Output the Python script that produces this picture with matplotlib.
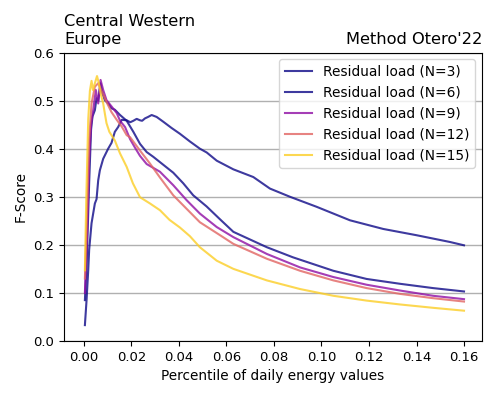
import matplotlib
matplotlib.use("Agg")
import matplotlib.pyplot as plt

# values (percentile fraction -> F-score)
x_n3 = [0.0004, 0.0011, 0.0018, 0.0022, 0.0032, 0.0046, 0.0053, 0.0060, 0.0067, 0.0081,
        0.0102, 0.0116, 0.0130, 0.0144, 0.0159, 0.0180, 0.0195, 0.0208, 0.0222, 0.0236,
        0.0245, 0.0257, 0.0270, 0.0285, 0.0306, 0.0334, 0.0369, 0.0404, 0.0446, 0.0488,
        0.0517, 0.0559, 0.0629, 0.0713, 0.0783, 0.0867, 0.0980, 0.1120, 0.1260, 0.1400,
        0.1540, 0.1600]
f_n3 = [0.033, 0.085, 0.147, 0.190, 0.245, 0.286, 0.295, 0.334, 0.355, 0.379,
        0.400, 0.412, 0.435, 0.445, 0.460, 0.459, 0.455, 0.458, 0.462, 0.459,
        0.458, 0.463, 0.466, 0.470, 0.466, 0.456, 0.443, 0.431, 0.415, 0.400,
        0.392, 0.375, 0.357, 0.341, 0.317, 0.300, 0.279, 0.251, 0.233, 0.220,
        0.206, 0.199]

x_n6 = [0.0004, 0.0012, 0.0022, 0.0030, 0.0036, 0.0046, 0.0053, 0.0060, 0.0070, 0.0078,
        0.0088, 0.0102, 0.0116, 0.0130, 0.0152, 0.0180, 0.0208, 0.0236, 0.0264, 0.0292,
        0.0320, 0.0376, 0.0418, 0.0460, 0.0516, 0.0573, 0.0629, 0.0770, 0.0880, 0.1050,
        0.1190, 0.1330, 0.1470, 0.1600]
f_n6 = [0.085, 0.170, 0.330, 0.440, 0.467, 0.480, 0.505, 0.500, 0.536, 0.515,
        0.501, 0.494, 0.484, 0.481, 0.470, 0.458, 0.435, 0.410, 0.393, 0.383,
        0.372, 0.350, 0.328, 0.303, 0.280, 0.253, 0.227, 0.195, 0.174, 0.146,
        0.129, 0.119, 0.110, 0.103]

x_n9 = [0.0004, 0.0013, 0.0022, 0.0030, 0.0039, 0.0050, 0.0060, 0.0070, 0.0081, 0.0095,
        0.0116, 0.0138, 0.0152, 0.0173, 0.0194, 0.0215, 0.0236, 0.0264, 0.0292, 0.0320,
        0.0376, 0.0432, 0.0488, 0.0559, 0.0629, 0.0770, 0.0910, 0.1050, 0.1190, 0.1330,
        0.1470, 0.1600]
f_n9 = [0.100, 0.220, 0.380, 0.450, 0.480, 0.522, 0.494, 0.543, 0.522, 0.501,
        0.488, 0.474, 0.458, 0.445, 0.420, 0.402, 0.385, 0.368, 0.360, 0.352,
        0.324, 0.293, 0.265, 0.237, 0.216, 0.181, 0.153, 0.133, 0.117, 0.105,
        0.094, 0.087]

x_n12 = [0.0004, 0.0012, 0.0022, 0.0032, 0.0046, 0.0060, 0.0075, 0.0095, 0.0116, 0.0138,
         0.0159, 0.0180, 0.0194, 0.0236, 0.0278, 0.0320, 0.0376, 0.0432, 0.0488, 0.0573,
         0.0629, 0.0770, 0.0910, 0.1050, 0.1190, 0.1330, 0.1470, 0.1600]
f_n12 = [0.130, 0.250, 0.420, 0.494, 0.529, 0.536, 0.519, 0.497, 0.476, 0.460,
         0.446, 0.428, 0.424, 0.396, 0.369, 0.340, 0.303, 0.275, 0.247, 0.220,
         0.202, 0.171, 0.146, 0.126, 0.110, 0.098, 0.089, 0.082]

x_n15 = [0.0004, 0.0010, 0.0018, 0.0025, 0.0032, 0.0038, 0.0046, 0.0055, 0.0063, 0.0070,
         0.0081, 0.0088, 0.0095, 0.0107, 0.0130, 0.0152, 0.0180, 0.0206, 0.0236, 0.0278,
         0.0320, 0.0360, 0.0404, 0.0446, 0.0488, 0.0559, 0.0629, 0.0770, 0.0910, 0.1050,
         0.1190, 0.1330, 0.1470, 0.1600]
f_n15 = [0.147, 0.300, 0.460, 0.520, 0.541, 0.522, 0.536, 0.551, 0.536, 0.515,
         0.494, 0.473, 0.453, 0.435, 0.417, 0.390, 0.362, 0.328, 0.299, 0.286,
         0.272, 0.252, 0.236, 0.218, 0.195, 0.167, 0.150, 0.126, 0.108, 0.094,
         0.084, 0.076, 0.069, 0.063]

labels = ["Residual load (N=3)", "Residual load (N=6)", "Residual load (N=9)",
          "Residual load (N=12)", "Residual load (N=15)"]

cmap = plt.get_cmap("plasma")
colors = [cmap(0.0), cmap(0.0), cmap(0.3), cmap(0.6), cmap(0.9)]

fig = plt.figure(figsize=(4.98, 3.99), dpi=100)
ax = fig.add_axes([0.1285, 0.1454, 0.8395, 0.723])

series = [(x_n3, f_n3), (x_n6, f_n6), (x_n9, f_n9), (x_n12, f_n12), (x_n15, f_n15)]
for (xs, ys), lab, c in zip(series, labels, colors):
    ax.plot(xs, ys, color=c, alpha=0.8, lw=1.5, label=lab)

ax.set_ylim(0, 0.6)
ax.set_xlim(-0.0084, 0.1676)
ax.set_xticks([0.00, 0.02, 0.04, 0.06, 0.08, 0.10, 0.12, 0.14, 0.16])
ax.tick_params(labelsize=9.5)
ax.grid(axis="y", color="#b0b0b0", lw=1.0)
ax.set_axisbelow(True)
ax.set_xlabel("Percentile of daily energy values", fontsize=9.8)
ax.set_ylabel("F-Score", fontsize=9.8)
ax.set_title("Central Western\nEurope", loc="left", fontsize=11.7, pad=6, linespacing=1.3)
ax.set_title("Method Otero'22", loc="right", fontsize=11.7, pad=6)
ax.legend(loc="upper right", fontsize=9.9)

fig.savefig("out.png", dpi=100)
